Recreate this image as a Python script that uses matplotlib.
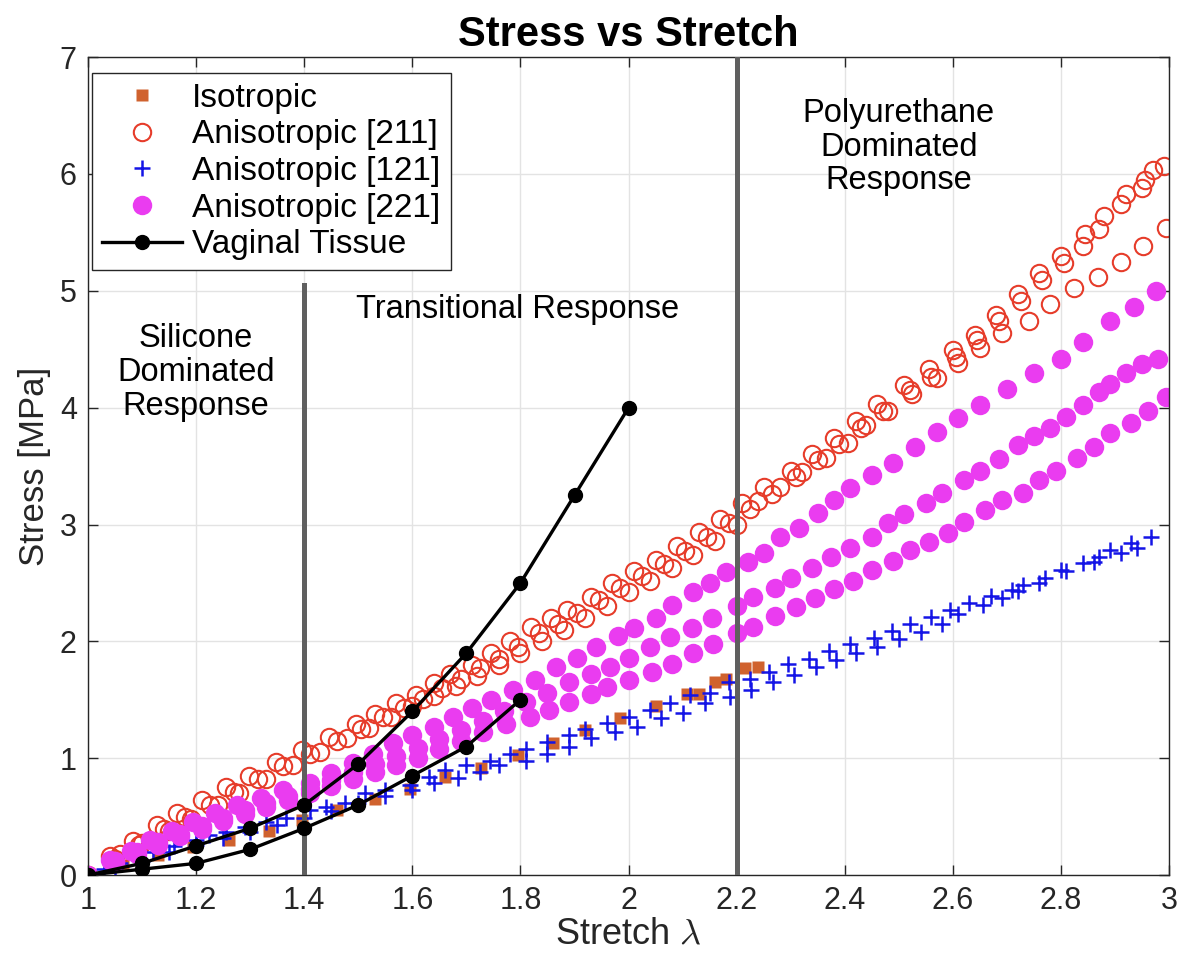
import matplotlib
matplotlib.use('Agg')
import matplotlib.pyplot as plt

plt.rcParams['font.family'] = ['Liberation Sans', 'DejaVu Sans']
plt.rcParams['mathtext.fontset'] = 'cm'

# === Isotropic (squares) ===
iso_x = [1.0, 1.065, 1.13, 1.195, 1.26, 1.335, 1.395, 1.46, 1.53, 1.596, 1.66, 1.727,
         1.795, 1.86, 1.92, 1.985, 2.05, 2.108, 2.13, 2.16, 2.18, 2.215, 2.24]
iso_y = [0.0, 0.09, 0.17, 0.24, 0.30, 0.38, 0.47, 0.56, 0.65, 0.74, 0.84, 0.92,
         1.03, 1.13, 1.24, 1.34, 1.45, 1.55, 1.55, 1.65, 1.68, 1.77, 1.78]

# === Anisotropic [211] (open circles), three runs ===
r1_x = [1.0, 1.04, 1.083, 1.127, 1.164, 1.21, 1.255, 1.298, 1.347, 1.396, 1.445, 1.495,
        1.53, 1.57, 1.607, 1.64, 1.67, 1.71, 1.745, 1.78, 1.82, 1.856, 1.887, 1.93, 1.97,
        2.01, 2.05, 2.09, 2.13, 2.17, 2.21, 2.25, 2.30, 2.34, 2.38, 2.42, 2.46, 2.51,
        2.555, 2.60, 2.64, 2.68, 2.72, 2.76, 2.80, 2.845, 2.88, 2.92, 2.955, 2.99]
r1_y = [0.0, 0.16, 0.29, 0.43, 0.53, 0.64, 0.75, 0.85, 0.97, 1.07, 1.18, 1.29,
        1.38, 1.47, 1.54, 1.64, 1.72, 1.80, 1.90, 2.00, 2.12, 2.20, 2.27, 2.38, 2.50,
        2.60, 2.70, 2.82, 2.94, 3.05, 3.18, 3.32, 3.46, 3.60, 3.74, 3.89, 4.03, 4.19,
        4.33, 4.49, 4.62, 4.79, 4.97, 5.15, 5.30, 5.49, 5.64, 5.83, 5.95, 6.07]
r2_x = [1.05, 1.095, 1.14, 1.18, 1.225, 1.27, 1.315, 1.36, 1.41, 1.46, 1.505, 1.545,
        1.585, 1.62, 1.655, 1.69, 1.725, 1.76, 1.795, 1.835, 1.87, 1.905, 1.945, 1.985,
        2.025, 2.065, 2.105, 2.145, 2.185, 2.225, 2.265, 2.31, 2.35, 2.39, 2.43, 2.47,
        2.52, 2.56, 2.605, 2.645, 2.685, 2.725, 2.765, 2.805, 2.84, 2.87, 2.91, 2.95, 2.97]
r2_y = [0.14, 0.26, 0.39, 0.50, 0.60, 0.71, 0.82, 0.93, 1.04, 1.15, 1.25, 1.35,
        1.43, 1.51, 1.60, 1.68, 1.77, 1.85, 1.95, 2.07, 2.15, 2.24, 2.35, 2.46,
        2.56, 2.66, 2.77, 2.89, 3.01, 3.13, 3.26, 3.41, 3.55, 3.69, 3.83, 3.97,
        4.15, 4.26, 4.43, 4.58, 4.74, 4.91, 5.09, 5.24, 5.38, 5.53, 5.74, 5.88, 6.03]
r3_x = [1.06, 1.10, 1.15, 1.19, 1.24, 1.28, 1.33, 1.38, 1.43, 1.48, 1.52, 1.56, 1.60,
        1.64, 1.68, 1.72, 1.76, 1.80, 1.84, 1.88, 1.92, 1.96, 2.00, 2.04, 2.08, 2.12,
        2.16, 2.20, 2.24, 2.28, 2.32, 2.365, 2.405, 2.44, 2.48, 2.525, 2.57, 2.61,
        2.65, 2.69, 2.74, 2.78, 2.824, 2.868, 2.91, 2.952, 2.995]
r3_y = [0.18, 0.27, 0.38, 0.48, 0.60, 0.70, 0.82, 0.94, 1.05, 1.17, 1.26, 1.35, 1.45,
        1.53, 1.62, 1.70, 1.80, 1.90, 2.00, 2.10, 2.20, 2.30, 2.42, 2.52, 2.63, 2.74,
        2.86, 3.00, 3.20, 3.32, 3.45, 3.57, 3.70, 3.85, 3.97, 4.12, 4.25, 4.38,
        4.51, 4.64, 4.74, 4.89, 5.02, 5.12, 5.25, 5.38, 5.54]

# === Anisotropic [121] (plus), two runs ===
b1_x = [1.0, 1.03, 1.06, 1.09, 1.12, 1.16, 1.20, 1.224, 1.255, 1.29, 1.33, 1.366, 1.41,
        1.44, 1.476, 1.513, 1.55, 1.596, 1.63, 1.66, 1.70, 1.743, 1.78, 1.81, 1.85, 1.89,
        1.92, 1.96, 2.00, 2.04, 2.076, 2.113, 2.15, 2.185, 2.224, 2.26, 2.295, 2.334,
        2.37, 2.41, 2.454, 2.488, 2.52, 2.56, 2.595, 2.63, 2.67, 2.71, 2.73, 2.77, 2.80,
        2.84, 2.87, 2.89, 2.93, 2.967]
b1_y = [0.0, 0.05, 0.10, 0.15, 0.20, 0.25, 0.30, 0.34, 0.37, 0.41, 0.45, 0.49, 0.56,
        0.58, 0.62, 0.70, 0.73, 0.77, 0.84, 0.90, 0.94, 0.98, 1.04, 1.08, 1.14, 1.20,
        1.25, 1.30, 1.35, 1.41, 1.47, 1.54, 1.56, 1.65, 1.68, 1.74, 1.81, 1.85,
        1.92, 1.98, 2.03, 2.09, 2.15, 2.21, 2.27, 2.33, 2.39, 2.44, 2.48, 2.54, 2.61,
        2.67, 2.72, 2.78, 2.84, 2.89]
b2_x = [1.05, 1.10, 1.15, 1.20, 1.25, 1.30, 1.35, 1.40, 1.45, 1.50, 1.55, 1.60, 1.64,
        1.685, 1.725, 1.76, 1.81, 1.85, 1.89, 1.93, 1.975, 2.016, 2.06, 2.10, 2.141,
        2.187, 2.227, 2.268, 2.306, 2.347, 2.384, 2.42, 2.46, 2.50, 2.54, 2.58, 2.61,
        2.656, 2.69, 2.72, 2.76, 2.81, 2.86, 2.91, 2.94]
b2_y = [0.06, 0.12, 0.20, 0.26, 0.32, 0.37, 0.43, 0.49, 0.55, 0.62, 0.68, 0.73, 0.79,
        0.83, 0.88, 0.94, 0.98, 1.04, 1.10, 1.17, 1.22, 1.27, 1.34, 1.39, 1.47,
        1.52, 1.58, 1.65, 1.71, 1.78, 1.84, 1.90, 1.95, 2.02, 2.08, 2.15, 2.23,
        2.31, 2.37, 2.43, 2.50, 2.60, 2.68, 2.76, 2.80]

# === Anisotropic [221] (filled dots), three runs ===
m1_x = [1.0, 1.04, 1.08, 1.115, 1.155, 1.195, 1.235, 1.275, 1.32, 1.36, 1.41, 1.45, 1.49,
        1.528, 1.565, 1.60, 1.64, 1.675, 1.71, 1.745, 1.786, 1.826, 1.865, 1.905, 1.94,
        1.98, 2.01, 2.05, 2.08, 2.12, 2.15, 2.18, 2.22, 2.25, 2.28, 2.315, 2.35, 2.38,
        2.41, 2.45, 2.49, 2.53, 2.57, 2.61, 2.65, 2.70, 2.75, 2.80, 2.84, 2.89, 2.934, 2.975]
m1_y = [0.0, 0.13, 0.21, 0.30, 0.38, 0.45, 0.53, 0.60, 0.66, 0.73, 0.79, 0.87, 0.96,
        1.04, 1.13, 1.20, 1.27, 1.35, 1.43, 1.50, 1.58, 1.67, 1.78, 1.86, 1.95,
        2.05, 2.11, 2.20, 2.31, 2.42, 2.50, 2.59, 2.68, 2.76, 2.89, 2.97, 3.10, 3.21,
        3.31, 3.42, 3.53, 3.66, 3.79, 3.91, 4.02, 4.16, 4.30, 4.42, 4.56, 4.74, 4.86, 5.00]
m2_x = [1.05, 1.09, 1.13, 1.17, 1.21, 1.25, 1.29, 1.33, 1.37, 1.41, 1.45, 1.49, 1.53,
        1.57, 1.61, 1.65, 1.69, 1.73, 1.77, 1.81, 1.85, 1.89, 1.93, 1.966, 2.0, 2.04,
        2.076, 2.117, 2.154, 2.20, 2.23, 2.27, 2.30, 2.34, 2.375, 2.41, 2.45, 2.48, 2.51,
        2.55, 2.58, 2.62, 2.65, 2.685, 2.72, 2.75, 2.78, 2.81, 2.84, 2.87, 2.89, 2.92,
        2.95, 2.98]
m2_y = [0.12, 0.20, 0.28, 0.35, 0.42, 0.49, 0.56, 0.62, 0.68, 0.74, 0.81, 0.88, 0.95,
        1.02, 1.09, 1.16, 1.24, 1.32, 1.40, 1.48, 1.56, 1.65, 1.72, 1.78, 1.86, 1.95,
        2.04, 2.11, 2.20, 2.30, 2.38, 2.46, 2.54, 2.63, 2.72, 2.80, 2.89, 3.01, 3.09,
        3.18, 3.27, 3.38, 3.46, 3.56, 3.68, 3.76, 3.83, 3.92, 4.02, 4.13, 4.20, 4.30,
        4.37, 4.42]
m3_x = [1.05, 1.09, 1.13, 1.17, 1.21, 1.25, 1.29, 1.33, 1.37, 1.41, 1.45, 1.49, 1.53,
        1.57, 1.61, 1.65, 1.69, 1.73, 1.773, 1.817, 1.853, 1.89, 1.93, 1.96, 2.0, 2.043,
        2.08, 2.12, 2.157, 2.20, 2.23, 2.27, 2.31, 2.345, 2.38, 2.415, 2.45, 2.49, 2.52,
        2.555, 2.59, 2.62, 2.66, 2.69, 2.73, 2.76, 2.79, 2.83, 2.86, 2.89, 2.93, 2.96, 2.995]
m3_y = [0.11, 0.18, 0.26, 0.33, 0.39, 0.46, 0.52, 0.58, 0.64, 0.70, 0.76, 0.82, 0.88,
        0.94, 1.00, 1.08, 1.15, 1.22, 1.29, 1.35, 1.41, 1.48, 1.55, 1.61, 1.67, 1.74,
        1.81, 1.90, 1.98, 2.07, 2.12, 2.22, 2.29, 2.37, 2.45, 2.52, 2.61, 2.69, 2.78,
        2.85, 2.93, 3.02, 3.12, 3.21, 3.27, 3.38, 3.46, 3.57, 3.66, 3.78, 3.87, 3.97, 4.09]

# === Vaginal tissue ===
vt1_x = [1.0, 1.1, 1.2, 1.3, 1.4, 1.5, 1.6, 1.7, 1.8, 1.9, 2.0]
vt1_y = [0.0, 0.10, 0.25, 0.40, 0.60, 0.95, 1.40, 1.90, 2.50, 3.25, 4.00]
vt2_x = [1.0, 1.1, 1.2, 1.3, 1.4, 1.5, 1.6, 1.7, 1.8]
vt2_y = [0.0, 0.05, 0.10, 0.22, 0.40, 0.60, 0.85, 1.10, 1.50]

c_iso = '#D0622E'
c_211 = '#E63C2A'
c_121 = '#1414E6'
c_221 = '#EA3CF0'

fig = plt.figure(figsize=(11.81, 9.6), dpi=100)
ax = fig.add_axes([0.0745, 0.0885, 0.9155, 0.852])

ax.plot(iso_x, iso_y, 's', color=c_iso, ms=8, mec='none', label='Isotropic')

for i, (xs, ys) in enumerate([(r1_x, r1_y), (r2_x, r2_y), (r3_x, r3_y)]):
    ax.plot(xs, ys, 'o', mfc='none', mec=c_211, mew=1.5, ms=12.5,
            label='Anisotropic [211]' if i == 0 else '_nolegend_')

for i, (xs, ys) in enumerate([(b1_x, b1_y), (b2_x, b2_y)]):
    ax.plot(xs, ys, '+', color=c_121, mew=1.8, ms=11,
            label='Anisotropic [121]' if i == 0 else '_nolegend_')

for i, (xs, ys) in enumerate([(m1_x, m1_y), (m2_x, m2_y), (m3_x, m3_y)]):
    ax.plot(xs, ys, 'o', color=c_221, mec='none', ms=14,
            label='Anisotropic [221]' if i == 0 else '_nolegend_')

# region boundaries
ax.plot([1.4, 1.4], [0, 5.05], color='#5f5f5f', lw=3.6, zorder=4)
ax.plot([2.2, 2.2], [0, 7], color='#5f5f5f', lw=3.6, zorder=4)

ax.plot(vt1_x, vt1_y, '-o', color='black', lw=2.4, ms=10, zorder=5, label='Vaginal Tissue')
ax.plot(vt2_x, vt2_y, '-o', color='black', lw=2.4, ms=10, zorder=5, label='_nolegend_')

ax.text(1.2, 4.3, 'Silicone\nDominated\nResponse', ha='center', va='center',
        fontsize=23.5, linespacing=1.12)
ax.text(1.795, 4.84, 'Transitional Response', ha='center', va='center', fontsize=23.5)
ax.text(2.5, 6.23, 'Polyurethane\nDominated\nResponse', ha='center', va='center',
        fontsize=23.5, linespacing=1.12)

ax.set_xlim(1, 3)
ax.set_ylim(0, 7)
ax.set_xticks([1, 1.2, 1.4, 1.6, 1.8, 2, 2.2, 2.4, 2.6, 2.8, 3])
ax.set_xticklabels(['1', '1.2', '1.4', '1.6', '1.8', '2', '2.2', '2.4', '2.6', '2.8', '3'])
ax.set_yticks(range(0, 8))
ax.tick_params(direction='in', labelsize=22, length=7, width=1, colors='#262626',
               top=True, right=True, pad=8)
ax.grid(True, color='#e3e3e3', lw=1)
ax.set_axisbelow(True)
for s in ax.spines.values():
    s.set_color('#262626')
    s.set_linewidth(1)

ax.set_xlabel(r'Stretch $\lambda$', fontsize=26, color='#262626', labelpad=0)
ax.set_ylabel('Stress [MPa]', fontsize=25, color='#262626', labelpad=6)
ax.set_title('Stress vs Stretch', fontsize=30, fontweight='bold', pad=8)

leg = ax.legend(loc='upper left', bbox_to_anchor=(0.004, 0.981), fontsize=24,
                fancybox=False, framealpha=1, edgecolor='#262626',
                handlelength=2.4, handletextpad=0.3, labelspacing=0.17,
                borderpad=0.3, borderaxespad=0)
leg.get_frame().set_linewidth(1)

fig.savefig('out.png', dpi=100)
